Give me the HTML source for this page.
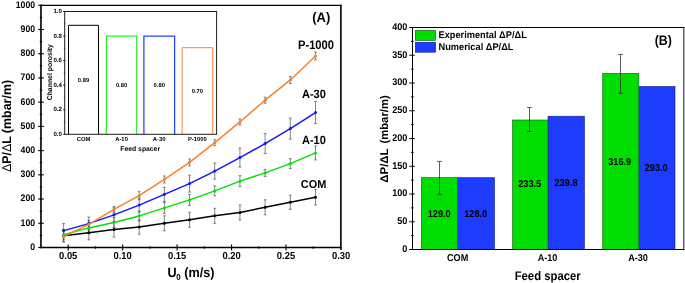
<!DOCTYPE html>
<html><head><meta charset="utf-8"><title>Figure</title>
<style>html,body{margin:0;padding:0;background:#fff}body{width:685px;height:283px;overflow:hidden}</style></head>
<body>
<svg width="685" height="283" viewBox="0 0 685 283" style="display:block;will-change:transform">
<rect width="685" height="283" fill="#fff"/>
<g font-family="&quot;Liberation Sans&quot;, sans-serif" font-weight="bold" fill="#000" text-rendering="geometricPrecision">
<path d="M40.95 248.14999999999998V4.6499999999999995M340.85 248.14999999999998V4.6499999999999995" fill="none" stroke="#141414" stroke-width="1.75"/>
<line x1="40.1" x2="341.7" y1="5.3999999999999995" y2="5.3999999999999995" stroke="#000" stroke-width="1.3"/>
<line x1="40.1" x2="341.7" y1="247.45" y2="247.45" stroke="#000" stroke-width="1.4"/>
<line x1="38.2" x2="43.8" y1="247.45" y2="247.45" stroke="#000" stroke-width="1.1"/>
<text transform="translate(35.10,249.80) scale(0.915,1)" font-size="9.5" text-anchor="end">0</text>
<line x1="38.2" x2="43.8" y1="223.23" y2="223.23" stroke="#000" stroke-width="1.1"/>
<text transform="translate(35.10,225.61) scale(0.915,1)" font-size="9.5" text-anchor="end">100</text>
<line x1="38.2" x2="43.8" y1="199.02" y2="199.02" stroke="#000" stroke-width="1.1"/>
<text transform="translate(35.10,201.42) scale(0.915,1)" font-size="9.5" text-anchor="end">200</text>
<line x1="38.2" x2="43.8" y1="174.81" y2="174.81" stroke="#000" stroke-width="1.1"/>
<text transform="translate(35.10,177.23) scale(0.915,1)" font-size="9.5" text-anchor="end">300</text>
<line x1="38.2" x2="43.8" y1="150.59" y2="150.59" stroke="#000" stroke-width="1.1"/>
<text transform="translate(35.10,153.04) scale(0.915,1)" font-size="9.5" text-anchor="end">400</text>
<line x1="38.2" x2="43.8" y1="126.37" y2="126.37" stroke="#000" stroke-width="1.1"/>
<text transform="translate(35.10,128.85) scale(0.915,1)" font-size="9.5" text-anchor="end">500</text>
<line x1="38.2" x2="43.8" y1="102.16" y2="102.16" stroke="#000" stroke-width="1.1"/>
<text transform="translate(35.10,104.66) scale(0.915,1)" font-size="9.5" text-anchor="end">600</text>
<line x1="38.2" x2="43.8" y1="77.94" y2="77.94" stroke="#000" stroke-width="1.1"/>
<text transform="translate(35.10,80.47) scale(0.915,1)" font-size="9.5" text-anchor="end">700</text>
<line x1="38.2" x2="43.8" y1="53.73" y2="53.73" stroke="#000" stroke-width="1.1"/>
<text transform="translate(35.10,56.28) scale(0.915,1)" font-size="9.5" text-anchor="end">800</text>
<line x1="38.2" x2="43.8" y1="29.51" y2="29.51" stroke="#000" stroke-width="1.1"/>
<text transform="translate(35.10,32.09) scale(0.915,1)" font-size="9.5" text-anchor="end">900</text>
<line x1="38.2" x2="43.8" y1="5.30" y2="5.30" stroke="#000" stroke-width="1.1"/>
<text transform="translate(35.10,7.90) scale(0.915,1)" font-size="9.5" text-anchor="end">1000</text>
<line x1="39.8" x2="42.2" y1="235.34" y2="235.34" stroke="#000" stroke-width="1.1"/>
<line x1="39.8" x2="42.2" y1="211.13" y2="211.13" stroke="#000" stroke-width="1.1"/>
<line x1="39.8" x2="42.2" y1="186.91" y2="186.91" stroke="#000" stroke-width="1.1"/>
<line x1="39.8" x2="42.2" y1="162.70" y2="162.70" stroke="#000" stroke-width="1.1"/>
<line x1="39.8" x2="42.2" y1="138.48" y2="138.48" stroke="#000" stroke-width="1.1"/>
<line x1="39.8" x2="42.2" y1="114.27" y2="114.27" stroke="#000" stroke-width="1.1"/>
<line x1="39.8" x2="42.2" y1="90.05" y2="90.05" stroke="#000" stroke-width="1.1"/>
<line x1="39.8" x2="42.2" y1="65.84" y2="65.84" stroke="#000" stroke-width="1.1"/>
<line x1="39.8" x2="42.2" y1="41.62" y2="41.62" stroke="#000" stroke-width="1.1"/>
<line x1="39.8" x2="42.2" y1="17.41" y2="17.41" stroke="#000" stroke-width="1.1"/>
<line x1="68.20" x2="68.20" y1="244.45" y2="250.45" stroke="#000" stroke-width="1.1"/>
<text transform="translate(68.20,259.10) scale(0.93,1)" font-size="10.1" text-anchor="middle">0.05</text>
<line x1="122.65" x2="122.65" y1="244.45" y2="250.45" stroke="#000" stroke-width="1.1"/>
<text transform="translate(122.65,259.10) scale(0.93,1)" font-size="10.1" text-anchor="middle">0.10</text>
<line x1="177.10" x2="177.10" y1="244.45" y2="250.45" stroke="#000" stroke-width="1.1"/>
<text transform="translate(177.10,259.10) scale(0.93,1)" font-size="10.1" text-anchor="middle">0.15</text>
<line x1="231.55" x2="231.55" y1="244.45" y2="250.45" stroke="#000" stroke-width="1.1"/>
<text transform="translate(231.55,259.10) scale(0.93,1)" font-size="10.1" text-anchor="middle">0.20</text>
<line x1="286.00" x2="286.00" y1="244.45" y2="250.45" stroke="#000" stroke-width="1.1"/>
<text transform="translate(286.00,259.10) scale(0.93,1)" font-size="10.1" text-anchor="middle">0.25</text>
<line x1="340.85" x2="340.85" y1="247.45" y2="249.95" stroke="#141414" stroke-width="1.75"/>
<text transform="translate(341.15,259.10) scale(0.93,1)" font-size="10.1" text-anchor="middle">0.30</text>
<line x1="95.42" x2="95.42" y1="246.14999999999998" y2="248.75" stroke="#000" stroke-width="1.1"/>
<line x1="149.88" x2="149.88" y1="246.14999999999998" y2="248.75" stroke="#000" stroke-width="1.1"/>
<line x1="204.32" x2="204.32" y1="246.14999999999998" y2="248.75" stroke="#000" stroke-width="1.1"/>
<line x1="258.77" x2="258.77" y1="246.14999999999998" y2="248.75" stroke="#000" stroke-width="1.1"/>
<line x1="313.23" x2="313.23" y1="246.14999999999998" y2="248.75" stroke="#000" stroke-width="1.1"/>
<g transform="translate(10.9,125) rotate(-90)" font-size="12.7"><text x="-47.1" y="0" textLength="35.95" lengthAdjust="spacingAndGlyphs"><tspan font-weight="normal">Δ</tspan>P/<tspan font-weight="normal">Δ</tspan>L</text><text x="-8.2" y="0" textLength="53.3" lengthAdjust="spacingAndGlyphs">(mbar/m)</text></g>
<text transform="translate(191.00,277.25) scale(0.93,1)" font-size="13.6" text-anchor="middle">U<tspan font-size="8.6" dy="3.1" dx="-0.5">0</tspan><tspan dy="-3.1"> (m/s)</tspan></text>
<path d="M63.60 229.80V241.80M62.20 229.80h2.8M62.20 241.80h2.8" stroke="#444" stroke-width="0.65" fill="none"/>
<path d="M88.79 225.80V239.80M87.39 225.80h2.8M87.39 239.80h2.8" stroke="#444" stroke-width="0.65" fill="none"/>
<path d="M113.98 222.05V237.05M112.58 222.05h2.8M112.58 237.05h2.8" stroke="#444" stroke-width="0.65" fill="none"/>
<path d="M139.17 219.85V234.25M137.77 219.85h2.8M137.77 234.25h2.8" stroke="#444" stroke-width="0.65" fill="none"/>
<path d="M164.36 215.80V230.80M162.96 215.80h2.8M162.96 230.80h2.8" stroke="#444" stroke-width="0.65" fill="none"/>
<path d="M189.55 212.30V227.30M188.15 212.30h2.8M188.15 227.30h2.8" stroke="#444" stroke-width="0.65" fill="none"/>
<path d="M214.74 208.30V223.30M213.34 208.30h2.8M213.34 223.30h2.8" stroke="#444" stroke-width="0.65" fill="none"/>
<path d="M239.93 205.00V220.00M238.53 205.00h2.8M238.53 220.00h2.8" stroke="#444" stroke-width="0.65" fill="none"/>
<path d="M265.12 199.80V214.80M263.72 199.80h2.8M263.72 214.80h2.8" stroke="#444" stroke-width="0.65" fill="none"/>
<path d="M290.31 195.20V209.40M288.91 195.20h2.8M288.91 209.40h2.8" stroke="#444" stroke-width="0.65" fill="none"/>
<path d="M315.50 189.60V205.00M314.10 189.60h2.8M314.10 205.00h2.8" stroke="#444" stroke-width="0.65" fill="none"/>
<path d="M63.60 229.65V239.65M62.20 229.65h2.8M62.20 239.65h2.8" stroke="#444" stroke-width="0.65" fill="none"/>
<path d="M88.79 222.90V232.90M87.39 222.90h2.8M87.39 232.90h2.8" stroke="#444" stroke-width="0.65" fill="none"/>
<path d="M113.98 217.40V227.40M112.58 217.40h2.8M112.58 227.40h2.8" stroke="#444" stroke-width="0.65" fill="none"/>
<path d="M139.17 210.90V220.90M137.77 210.90h2.8M137.77 220.90h2.8" stroke="#444" stroke-width="0.65" fill="none"/>
<path d="M164.36 202.40V213.40M162.96 202.40h2.8M162.96 213.40h2.8" stroke="#444" stroke-width="0.65" fill="none"/>
<path d="M189.55 194.40V205.40M188.15 194.40h2.8M188.15 205.40h2.8" stroke="#444" stroke-width="0.65" fill="none"/>
<path d="M214.74 185.90V195.90M213.34 185.90h2.8M213.34 195.90h2.8" stroke="#444" stroke-width="0.65" fill="none"/>
<path d="M239.93 175.65V186.65M238.53 175.65h2.8M238.53 186.65h2.8" stroke="#444" stroke-width="0.65" fill="none"/>
<path d="M265.12 169.40V176.40M263.72 169.40h2.8M263.72 176.40h2.8" stroke="#444" stroke-width="0.65" fill="none"/>
<path d="M290.31 158.65V168.65M288.91 158.65h2.8M288.91 168.65h2.8" stroke="#444" stroke-width="0.65" fill="none"/>
<path d="M315.50 145.90V159.90M314.10 145.90h2.8M314.10 159.90h2.8" stroke="#444" stroke-width="0.65" fill="none"/>
<path d="M63.60 223.60V237.60M62.15 223.60h2.9M62.15 237.60h2.9" stroke="#444" stroke-width="0.65" fill="none"/>
<path d="M88.79 217.10V230.10M87.34 217.10h2.9M87.34 230.10h2.9" stroke="#444" stroke-width="0.65" fill="none"/>
<path d="M113.98 207.85V221.85M112.53 207.85h2.9M112.53 221.85h2.9" stroke="#444" stroke-width="0.65" fill="none"/>
<path d="M139.17 198.10V212.10M137.72 198.10h2.9M137.72 212.10h2.9" stroke="#444" stroke-width="0.65" fill="none"/>
<path d="M164.36 187.35V201.35M162.91 187.35h2.9M162.91 201.35h2.9" stroke="#444" stroke-width="0.65" fill="none"/>
<path d="M189.55 175.10V192.10M188.10 175.10h2.9M188.10 192.10h2.9" stroke="#444" stroke-width="0.65" fill="none"/>
<path d="M214.74 163.10V179.10M213.29 163.10h2.9M213.29 179.10h2.9" stroke="#444" stroke-width="0.65" fill="none"/>
<path d="M239.93 148.10V167.10M238.48 148.10h2.9M238.48 167.10h2.9" stroke="#444" stroke-width="0.65" fill="none"/>
<path d="M265.12 133.60V153.60M263.67 133.60h2.9M263.67 153.60h2.9" stroke="#444" stroke-width="0.65" fill="none"/>
<path d="M290.31 118.10V139.10M288.86 118.10h2.9M288.86 139.10h2.9" stroke="#444" stroke-width="0.65" fill="none"/>
<path d="M315.50 101.60V123.60M314.05 101.60h2.9M314.05 123.60h2.9" stroke="#444" stroke-width="0.65" fill="none"/>
<path d="M63.60 231.70V241.70M62.25 231.70h2.7M62.25 241.70h2.7" stroke="#444" stroke-width="0.65" fill="none"/>
<path d="M88.79 220.45V228.45M87.44 220.45h2.7M87.44 228.45h2.7" stroke="#444" stroke-width="0.65" fill="none"/>
<path d="M113.98 206.45V212.45M112.63 206.45h2.7M112.63 212.45h2.7" stroke="#444" stroke-width="0.65" fill="none"/>
<path d="M139.17 191.70V199.70M137.82 191.70h2.7M137.82 199.70h2.7" stroke="#444" stroke-width="0.65" fill="none"/>
<path d="M164.36 175.95V182.95M163.01 175.95h2.7M163.01 182.95h2.7" stroke="#444" stroke-width="0.65" fill="none"/>
<path d="M189.55 158.95V165.95M188.20 158.95h2.7M188.20 165.95h2.7" stroke="#444" stroke-width="0.65" fill="none"/>
<path d="M214.74 139.70V145.70M213.39 139.70h2.7M213.39 145.70h2.7" stroke="#444" stroke-width="0.65" fill="none"/>
<path d="M239.93 118.95V124.95M238.58 118.95h2.7M238.58 124.95h2.7" stroke="#444" stroke-width="0.65" fill="none"/>
<path d="M265.12 97.20V103.20M263.77 97.20h2.7M263.77 103.20h2.7" stroke="#444" stroke-width="0.65" fill="none"/>
<path d="M290.31 76.45V83.45M288.96 76.45h2.7M288.96 83.45h2.7" stroke="#444" stroke-width="0.65" fill="none"/>
<path d="M315.50 51.95V59.95M314.15 51.95h2.7M314.15 59.95h2.7" stroke="#444" stroke-width="0.65" fill="none"/>
<polyline points="63.60,235.80 88.79,232.80 113.98,229.55 139.17,227.05 164.36,223.30 189.55,219.80 214.74,215.80 239.93,212.50 265.12,207.30 290.31,202.30 315.50,197.30" fill="none" stroke="#000000" stroke-width="1.5" stroke-linejoin="round"/>
<circle cx="63.60" cy="235.80" r="1.5" fill="#000000"/>
<circle cx="88.79" cy="232.80" r="1.5" fill="#000000"/>
<circle cx="113.98" cy="229.55" r="1.5" fill="#000000"/>
<circle cx="139.17" cy="227.05" r="1.5" fill="#000000"/>
<circle cx="164.36" cy="223.30" r="1.5" fill="#000000"/>
<circle cx="189.55" cy="219.80" r="1.5" fill="#000000"/>
<circle cx="214.74" cy="215.80" r="1.5" fill="#000000"/>
<circle cx="239.93" cy="212.50" r="1.5" fill="#000000"/>
<circle cx="265.12" cy="207.30" r="1.5" fill="#000000"/>
<circle cx="290.31" cy="202.30" r="1.5" fill="#000000"/>
<circle cx="315.50" cy="197.30" r="1.5" fill="#000000"/>
<polyline points="63.60,234.65 88.79,227.90 113.98,222.40 139.17,215.90 164.36,207.90 189.55,199.90 214.74,190.90 239.93,181.15 265.12,172.90 290.31,163.65 315.50,152.90" fill="none" stroke="#00e000" stroke-width="1.5" stroke-linejoin="round"/>
<circle cx="63.60" cy="234.65" r="1.5" fill="#00e000"/>
<circle cx="88.79" cy="227.90" r="1.5" fill="#00e000"/>
<circle cx="113.98" cy="222.40" r="1.5" fill="#00e000"/>
<circle cx="139.17" cy="215.90" r="1.5" fill="#00e000"/>
<circle cx="164.36" cy="207.90" r="1.5" fill="#00e000"/>
<circle cx="189.55" cy="199.90" r="1.5" fill="#00e000"/>
<circle cx="214.74" cy="190.90" r="1.5" fill="#00e000"/>
<circle cx="239.93" cy="181.15" r="1.5" fill="#00e000"/>
<circle cx="265.12" cy="172.90" r="1.5" fill="#00e000"/>
<circle cx="290.31" cy="163.65" r="1.5" fill="#00e000"/>
<circle cx="315.50" cy="152.90" r="1.5" fill="#00e000"/>
<polyline points="63.60,230.60 88.79,223.60 113.98,214.85 139.17,205.10 164.36,194.35 189.55,183.60 214.74,171.10 239.93,157.60 265.12,143.60 290.31,128.60 315.50,112.60" fill="none" stroke="#1414ff" stroke-width="1.5" stroke-linejoin="round"/>
<circle cx="63.60" cy="230.60" r="1.5" fill="#1414ff"/>
<circle cx="88.79" cy="223.60" r="1.5" fill="#1414ff"/>
<circle cx="113.98" cy="214.85" r="1.5" fill="#1414ff"/>
<circle cx="139.17" cy="205.10" r="1.5" fill="#1414ff"/>
<circle cx="164.36" cy="194.35" r="1.5" fill="#1414ff"/>
<circle cx="189.55" cy="183.60" r="1.5" fill="#1414ff"/>
<circle cx="214.74" cy="171.10" r="1.5" fill="#1414ff"/>
<circle cx="239.93" cy="157.60" r="1.5" fill="#1414ff"/>
<circle cx="265.12" cy="143.60" r="1.5" fill="#1414ff"/>
<circle cx="290.31" cy="128.60" r="1.5" fill="#1414ff"/>
<circle cx="315.50" cy="112.60" r="1.5" fill="#1414ff"/>
<polyline points="63.60,236.70 88.79,224.45 113.98,209.45 139.17,195.70 164.36,179.45 189.55,162.45 214.74,142.70 239.93,121.95 265.12,100.20 290.31,79.95 315.50,55.95" fill="none" stroke="#f5822a" stroke-width="1.5" stroke-linejoin="round"/>
<circle cx="63.60" cy="236.70" r="1.5" fill="#f5822a"/>
<circle cx="88.79" cy="224.45" r="1.5" fill="#f5822a"/>
<circle cx="113.98" cy="209.45" r="1.5" fill="#f5822a"/>
<circle cx="139.17" cy="195.70" r="1.5" fill="#f5822a"/>
<circle cx="164.36" cy="179.45" r="1.5" fill="#f5822a"/>
<circle cx="189.55" cy="162.45" r="1.5" fill="#f5822a"/>
<circle cx="214.74" cy="142.70" r="1.5" fill="#f5822a"/>
<circle cx="239.93" cy="121.95" r="1.5" fill="#f5822a"/>
<circle cx="265.12" cy="100.20" r="1.5" fill="#f5822a"/>
<circle cx="290.31" cy="79.95" r="1.5" fill="#f5822a"/>
<circle cx="315.50" cy="55.95" r="1.5" fill="#f5822a"/>
<text transform="translate(321.20,22.30) scale(0.94,1)" font-size="13.8" text-anchor="middle">(A)</text>
<text transform="translate(316.00,48.95) scale(0.9,1)" font-size="12.4" text-anchor="middle">P-1000</text>
<text transform="translate(313.90,98.40) scale(0.92,1)" font-size="12.0" text-anchor="middle">A-30</text>
<text transform="translate(313.90,144.30) scale(0.92,1)" font-size="12.0" text-anchor="middle">A-10</text>
<text transform="translate(313.60,187.70) scale(0.96,1)" font-size="11.4" text-anchor="middle">COM</text>
<rect x="64.7" y="11.5" width="151.89999999999998" height="122.80000000000001" fill="#fff" stroke="none"/>
<line x1="63.1" x2="65.5" y1="134.30" y2="134.30" stroke="#000" stroke-width="0.8"/>
<text x="61.9" y="135.90" font-size="6.1" text-anchor="end">0.0</text>
<line x1="63.1" x2="65.5" y1="109.74" y2="109.74" stroke="#000" stroke-width="0.8"/>
<text x="61.9" y="111.34" font-size="6.1" text-anchor="end">0.2</text>
<line x1="63.1" x2="65.5" y1="85.18" y2="85.18" stroke="#000" stroke-width="0.8"/>
<text x="61.9" y="86.78" font-size="6.1" text-anchor="end">0.4</text>
<line x1="63.1" x2="65.5" y1="60.62" y2="60.62" stroke="#000" stroke-width="0.8"/>
<text x="61.9" y="62.22" font-size="6.1" text-anchor="end">0.6</text>
<line x1="63.1" x2="65.5" y1="36.06" y2="36.06" stroke="#000" stroke-width="0.8"/>
<text x="61.9" y="37.66" font-size="6.1" text-anchor="end">0.8</text>
<line x1="63.1" x2="65.5" y1="11.50" y2="11.50" stroke="#000" stroke-width="0.8"/>
<text x="61.9" y="13.10" font-size="6.1" text-anchor="end">1.0</text>
<line x1="63.800000000000004" x2="65.2" y1="122.02" y2="122.02" stroke="#000" stroke-width="0.7"/>
<line x1="63.800000000000004" x2="65.2" y1="97.46" y2="97.46" stroke="#000" stroke-width="0.7"/>
<line x1="63.800000000000004" x2="65.2" y1="72.90" y2="72.90" stroke="#000" stroke-width="0.7"/>
<line x1="63.800000000000004" x2="65.2" y1="48.34" y2="48.34" stroke="#000" stroke-width="0.7"/>
<line x1="63.800000000000004" x2="65.2" y1="23.78" y2="23.78" stroke="#000" stroke-width="0.7"/>
<path d="M68.5 134.3V25.3H98.5V134.3" fill="none" stroke="#000000" stroke-width="1.0"/>
<text x="83.50" y="81.6" font-size="5.8" text-anchor="middle">0.89</text>
<text x="83.50" y="140.9" font-size="5.9" text-anchor="middle">COM</text>
<path d="M106.4 134.3V36.0H136.7V134.3" fill="none" stroke="#2cf02c" stroke-width="1.25"/>
<text x="121.55" y="87.1" font-size="5.8" text-anchor="middle">0.80</text>
<text x="121.55" y="140.9" font-size="5.9" text-anchor="middle">A-10</text>
<path d="M143.9 134.3V36.0H174.6V134.3" fill="none" stroke="#2a40ff" stroke-width="1.25"/>
<text x="159.25" y="87.1" font-size="5.8" text-anchor="middle">0.80</text>
<text x="159.25" y="140.9" font-size="5.9" text-anchor="middle">A-30</text>
<path d="M182.1 134.3V47.7H212.7V134.3" fill="none" stroke="#f5853a" stroke-width="1.0"/>
<text x="197.40" y="92.85" font-size="5.8" text-anchor="middle">0.70</text>
<text x="197.40" y="140.9" font-size="5.9" text-anchor="middle">P-1000</text>
<rect x="64.7" y="11.5" width="151.90" height="122.80" fill="none" stroke="#1c1c1c" stroke-width="1"/>
<text x="140.2" y="151.2" font-size="6.8" text-anchor="middle">Feed spacer</text>
<text transform="translate(52,72.2) rotate(-90)" font-size="6.9" text-anchor="middle">Channel porosity</text>
<rect x="457.6" y="177.70" width="36.90" height="71.80" fill="#1e3cff" stroke="#101a80" stroke-width="0.6"/>
<rect x="421.4" y="177.70" width="36.20" height="71.80" fill="#00dd00" stroke="#0a5a0a" stroke-width="0.6"/>
<path d="M439.50 161.40V194.40M437.10 161.40h4.8M437.10 194.40h4.8" stroke="#2a2a2a" stroke-width="0.75" fill="none"/>
<text transform="translate(439.20,216.80) scale(0.93,1)" font-size="9.9" text-anchor="middle">129.0</text>
<text transform="translate(475.70,216.80) scale(0.93,1)" font-size="9.9" text-anchor="middle">128.0</text>
<text transform="translate(457.60,260.70) scale(0.92,1)" font-size="9.9" text-anchor="middle">COM</text>
<rect x="548.0" y="116.20" width="36.40" height="133.30" fill="#1e3cff" stroke="#101a80" stroke-width="0.6"/>
<rect x="512.5" y="120.00" width="35.50" height="129.50" fill="#00dd00" stroke="#0a5a0a" stroke-width="0.6"/>
<path d="M529.50 107.50V131.50M527.10 107.50h4.8M527.10 131.50h4.8" stroke="#2a2a2a" stroke-width="0.75" fill="none"/>
<text transform="translate(529.70,187.30) scale(0.93,1)" font-size="9.9" text-anchor="middle">233.5</text>
<text transform="translate(566.00,186.00) scale(0.93,1)" font-size="9.9" text-anchor="middle">239.8</text>
<text transform="translate(547.50,260.70) scale(0.92,1)" font-size="9.9" text-anchor="middle">A-10</text>
<rect x="638.8" y="86.50" width="36.20" height="163.00" fill="#1e3cff" stroke="#101a80" stroke-width="0.6"/>
<rect x="602.7" y="73.40" width="36.10" height="176.10" fill="#00dd00" stroke="#0a5a0a" stroke-width="0.6"/>
<path d="M620.50 54.40V93.20M618.10 54.40h4.8M618.10 93.20h4.8" stroke="#2a2a2a" stroke-width="0.75" fill="none"/>
<text transform="translate(619.70,164.80) scale(0.93,1)" font-size="9.9" text-anchor="middle">316.9</text>
<text transform="translate(656.20,170.80) scale(0.93,1)" font-size="9.9" text-anchor="middle">293.0</text>
<text transform="translate(638.00,260.70) scale(0.92,1)" font-size="9.9" text-anchor="middle">A-30</text>
<path d="M412.5 250.0V27.5H684.3M412.0 249.5H684.3" fill="none" stroke="#000" stroke-width="1"/>
<line x1="683.85" x2="683.85" y1="27.0" y2="250.0" stroke="#000" stroke-width="0.9"/>
<line x1="409.3" x2="414.7" y1="249.50" y2="249.50" stroke="#000" stroke-width="1"/>
<text transform="translate(407.40,251.90) scale(0.93,1)" font-size="9.8" text-anchor="end">0</text>
<line x1="409.3" x2="414.7" y1="221.75" y2="221.75" stroke="#000" stroke-width="1"/>
<text transform="translate(407.40,224.16) scale(0.93,1)" font-size="9.8" text-anchor="end">50</text>
<line x1="409.3" x2="414.7" y1="194.00" y2="194.00" stroke="#000" stroke-width="1"/>
<text transform="translate(407.40,196.43) scale(0.93,1)" font-size="9.8" text-anchor="end">100</text>
<line x1="409.3" x2="414.7" y1="166.25" y2="166.25" stroke="#000" stroke-width="1"/>
<text transform="translate(407.40,168.69) scale(0.93,1)" font-size="9.8" text-anchor="end">150</text>
<line x1="409.3" x2="414.7" y1="138.50" y2="138.50" stroke="#000" stroke-width="1"/>
<text transform="translate(407.40,140.95) scale(0.93,1)" font-size="9.8" text-anchor="end">200</text>
<line x1="409.3" x2="414.7" y1="110.75" y2="110.75" stroke="#000" stroke-width="1"/>
<text transform="translate(407.40,113.21) scale(0.93,1)" font-size="9.8" text-anchor="end">250</text>
<line x1="409.3" x2="414.7" y1="83.00" y2="83.00" stroke="#000" stroke-width="1"/>
<text transform="translate(407.40,85.47) scale(0.93,1)" font-size="9.8" text-anchor="end">300</text>
<line x1="409.3" x2="414.7" y1="55.25" y2="55.25" stroke="#000" stroke-width="1"/>
<text transform="translate(407.40,57.74) scale(0.93,1)" font-size="9.8" text-anchor="end">350</text>
<line x1="409.3" x2="414.7" y1="27.50" y2="27.50" stroke="#000" stroke-width="1"/>
<text transform="translate(407.40,30.00) scale(0.93,1)" font-size="9.8" text-anchor="end">400</text>
<line x1="410.9" x2="413.7" y1="235.62" y2="235.62" stroke="#000" stroke-width="0.9"/>
<line x1="410.9" x2="413.7" y1="207.88" y2="207.88" stroke="#000" stroke-width="0.9"/>
<line x1="410.9" x2="413.7" y1="180.12" y2="180.12" stroke="#000" stroke-width="0.9"/>
<line x1="410.9" x2="413.7" y1="152.38" y2="152.38" stroke="#000" stroke-width="0.9"/>
<line x1="410.9" x2="413.7" y1="124.62" y2="124.62" stroke="#000" stroke-width="0.9"/>
<line x1="410.9" x2="413.7" y1="96.88" y2="96.88" stroke="#000" stroke-width="0.9"/>
<line x1="410.9" x2="413.7" y1="69.12" y2="69.12" stroke="#000" stroke-width="0.9"/>
<line x1="410.9" x2="413.7" y1="41.38" y2="41.38" stroke="#000" stroke-width="0.9"/>
<g transform="translate(387.8,138) rotate(-90)" font-size="11.3"><text x="-44.7" y="0" textLength="34.3" lengthAdjust="spacingAndGlyphs">ΔP/ΔL</text><text x="-5.6" y="0">(mbar/m)</text></g>
<text transform="translate(547.70,279.95) scale(0.906,1)" font-size="12.5" text-anchor="middle">Feed spacer</text>
<rect x="415.3" y="30.4" width="20.4" height="10" fill="#00dd00" stroke="#0a5a0a" stroke-width="0.6"/>
<rect x="415.3" y="42.2" width="20.4" height="10" fill="#1e3cff" stroke="#101a80" stroke-width="0.6"/>
<text transform="translate(438.50,38.40) scale(0.948,1)" font-size="9.75" text-anchor="start">Experimental ΔP/ΔL</text>
<text transform="translate(438.50,50.20) scale(0.948,1)" font-size="9.75" text-anchor="start">Numerical ΔP/ΔL</text>
<text transform="translate(663.20,44.90) scale(0.9,1)" font-size="13.7" text-anchor="middle">(B)</text>
</g></svg>
</body></html>
